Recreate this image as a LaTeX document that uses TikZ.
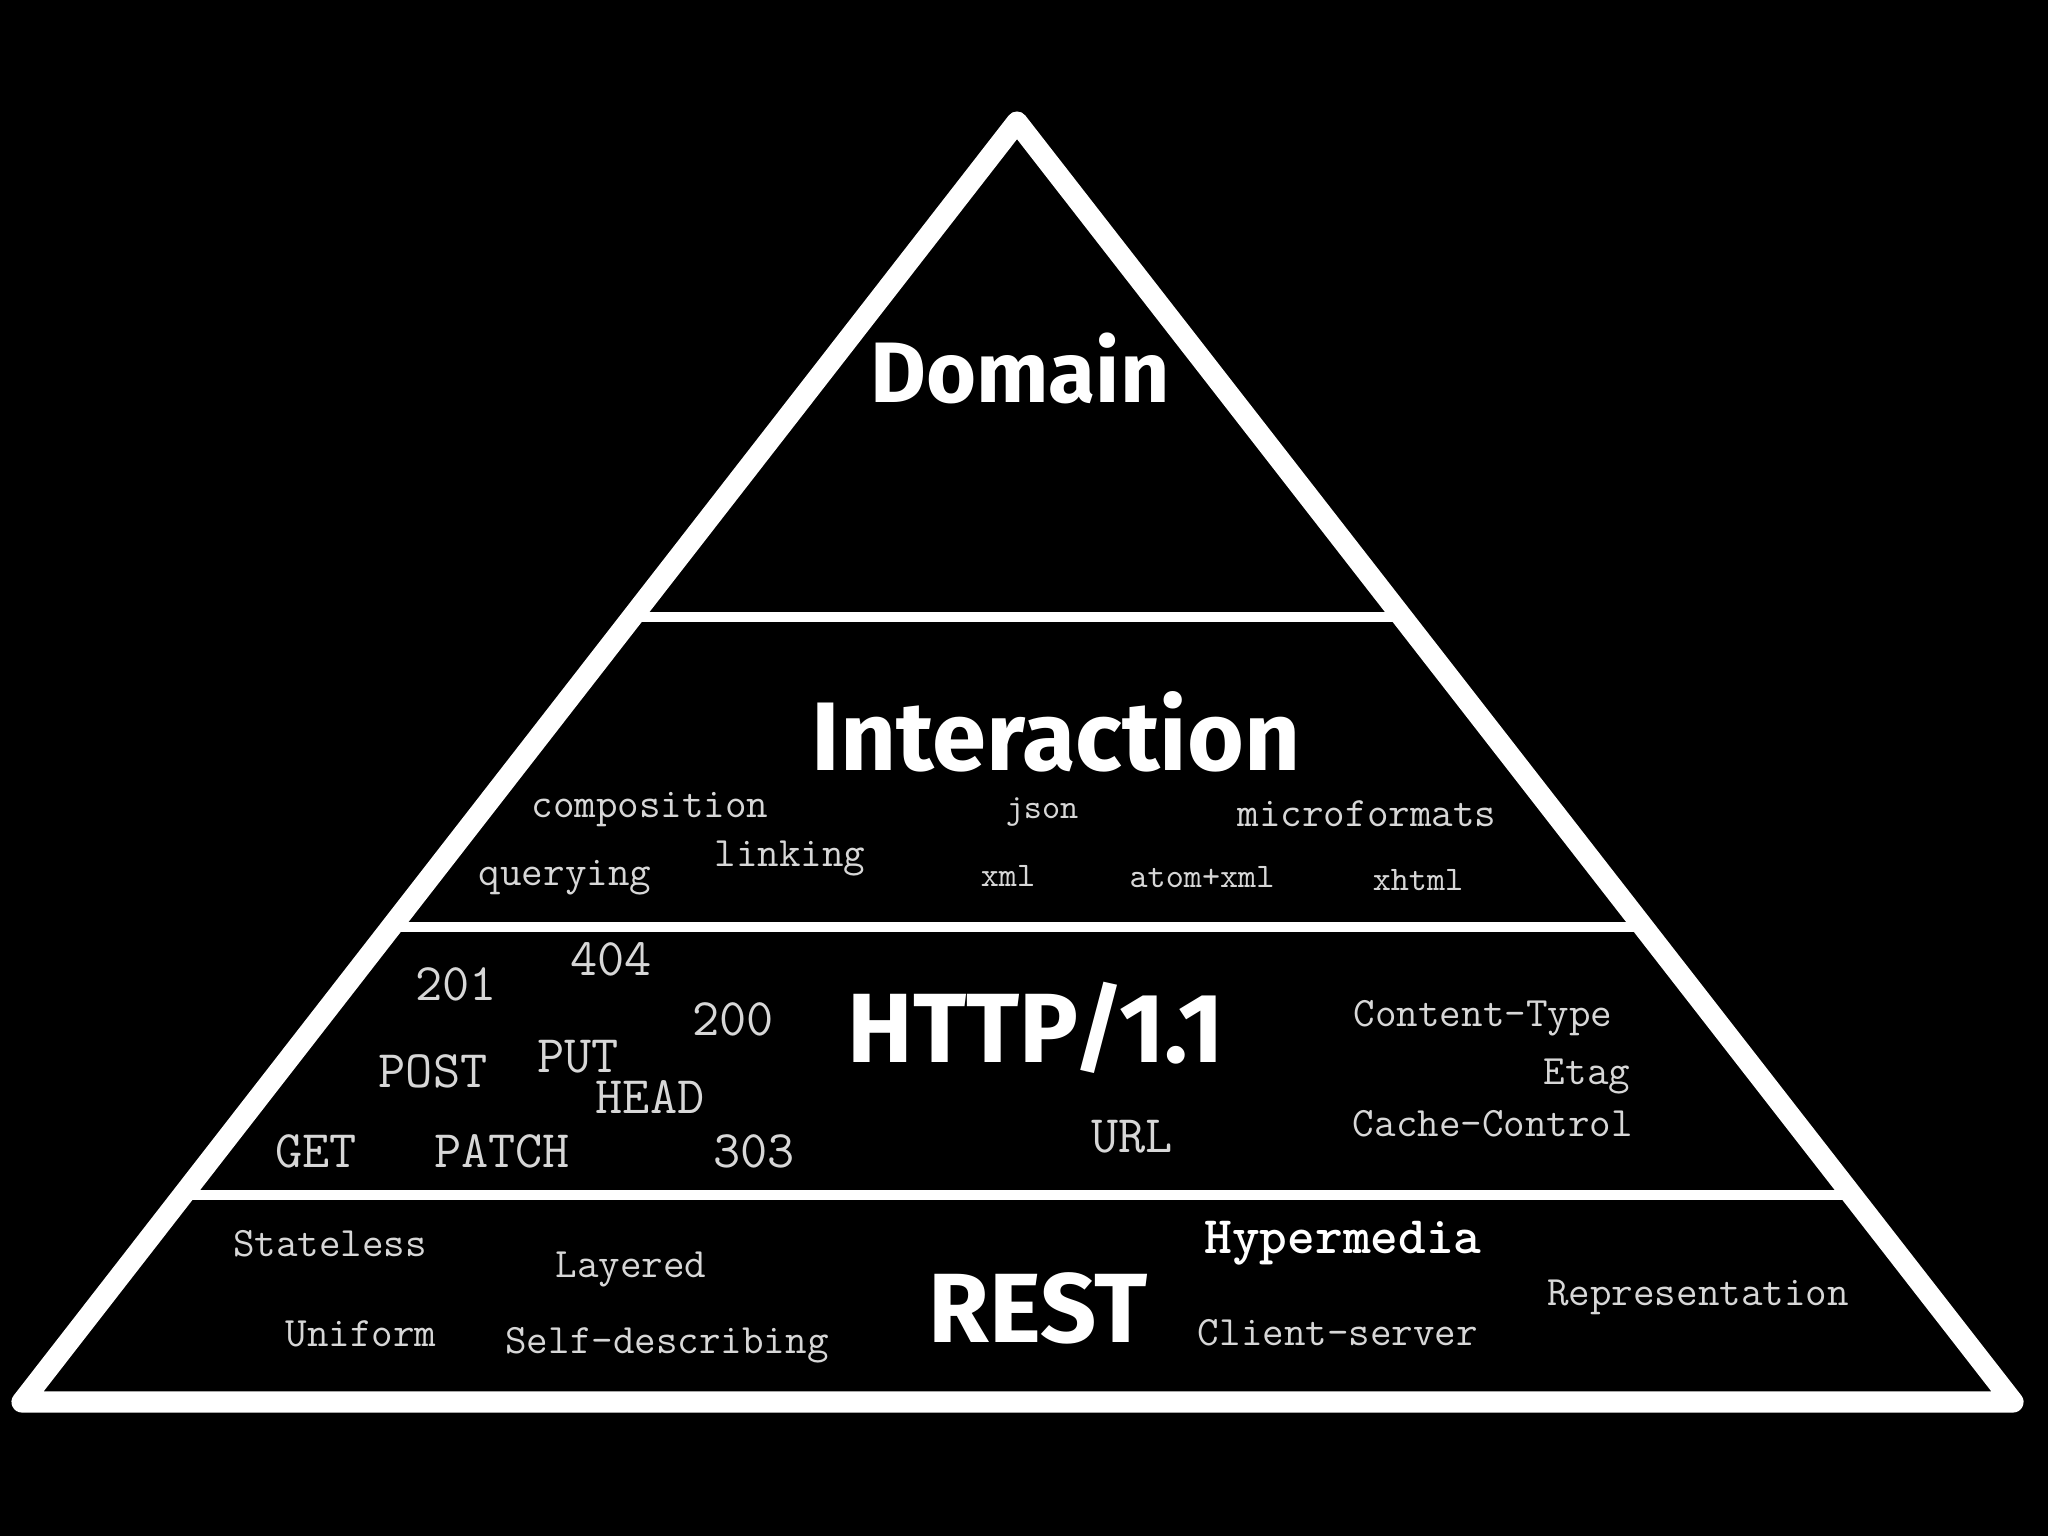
\documentclass[tikz,border=0pt]{standalone}
\usepackage{fontspec}
\usepackage{tikz}
\usetikzlibrary{calc}

\newfontfamily\titlefont{Fira Sans}
\definecolor{codegray}{RGB}{215,215,215}

\begin{document}
\begin{tikzpicture}[
    x=0.01cm, y=-0.01cm,
    outline/.style={draw=white, line width=6pt, line join=round},
    divider/.style={draw=white, line width=2.7pt},
    layer/.style={
        text=white,
        font=\titlefont\bfseries\fontsize{28}{30}\selectfont,
        inner sep=0pt,
        anchor=base
    },
    word/.style={
        text=codegray,
        font=\ttfamily\fontsize{11.9}{13}\selectfont,
        inner sep=0pt,
        anchor=base
    },
    tiny/.style={word, font=\ttfamily\fontsize{9.8}{11}\selectfont},
    big/.style={word, font=\ttfamily\fontsize{15}{17}\selectfont}
]

% Background
\useasboundingbox (0,0) rectangle (2048,1536);
\fill[black] (0,0) rectangle (2048,1536);

% Pyramid
\coordinate (apex) at (1017,122);
\coordinate (bl) at (22,1402);
\coordinate (br) at (2013,1402);

\draw[divider] ($(bl)!0.6133!(apex)$) -- ($(br)!0.6133!(apex)$);
\draw[divider] ($(bl)!0.3711!(apex)$) -- ($(br)!0.3711!(apex)$);
\draw[divider] ($(bl)!0.1617!(apex)$) -- ($(br)!0.1617!(apex)$);
\draw[outline] (apex) -- (bl) -- (br) -- cycle;

% Layer titles
\node (domain) [layer, font=\titlefont\bfseries\fontsize{24.4}{26}\selectfont] at (1020,402) {Domain};
\node (interaction) [layer, font=\titlefont\bfseries\fontsize{27.7}{30}\selectfont] at (1056,770) {Interaction};
\node (http) [layer] at (1036,1062) {HTTP/1.1};
\node (rest) [layer] at (1038,1342) {REST};

% Interaction words
\node (composition) [word] at (650,817) {composition};
\node (json) [tiny] at (1042,818) {json};
\node (microformats) [word] at (1367,826) {microformats};
\node (querying) [word] at (565,885) {querying};
\node (linking) [word] at (790,866) {linking};
\node (xml) [tiny] at (1008,886) {xml};
\node (atomxml) [tiny] at (1202,887) {atom+xml};
\node (xhtml) [tiny] at (1418,890) {xhtml};

% HTTP words
\node (c404) [big] at (611,975) {404};
\node (c201) [big] at (456,1000) {201};
\node (c200) [big] at (733,1035) {200};
\node (put) [big] at (578,1072) {PUT};
\node (post) [big] at (433,1087) {POST};
\node (head) [big] at (650,1113) {HEAD};
\node (get) [big] at (316,1167) {GET};
\node (patch) [big] at (502,1167) {PATCH};
\node (c303) [big] at (754,1167) {303};
\node (url) [big] at (1132,1152) {URL};
\node (ctype) [word] at (1483,1026) {Content-Type};
\node (etag) [word] at (1587,1084) {Etag};
\node (cache) [word] at (1493,1136) {Cache-Control};

% REST words
\node (stateless) [word] at (330,1256) {Stateless};
\node (layered) [word] at (631,1277) {Layered};
\node (uniform) [word] at (361,1346) {Uniform};
\node (selfdesc) [word] at (667,1353) {Self-describing};
\node (hypermedia) [big, text=white, font=\ttfamily\bfseries\fontsize{15}{17}\selectfont] at (1343,1253) {Hypermedia};
\node (clientserver) [word] at (1338,1345) {Client-server};
\node (representation) [word] at (1698,1305) {Representation};

\end{tikzpicture}
\end{document}
